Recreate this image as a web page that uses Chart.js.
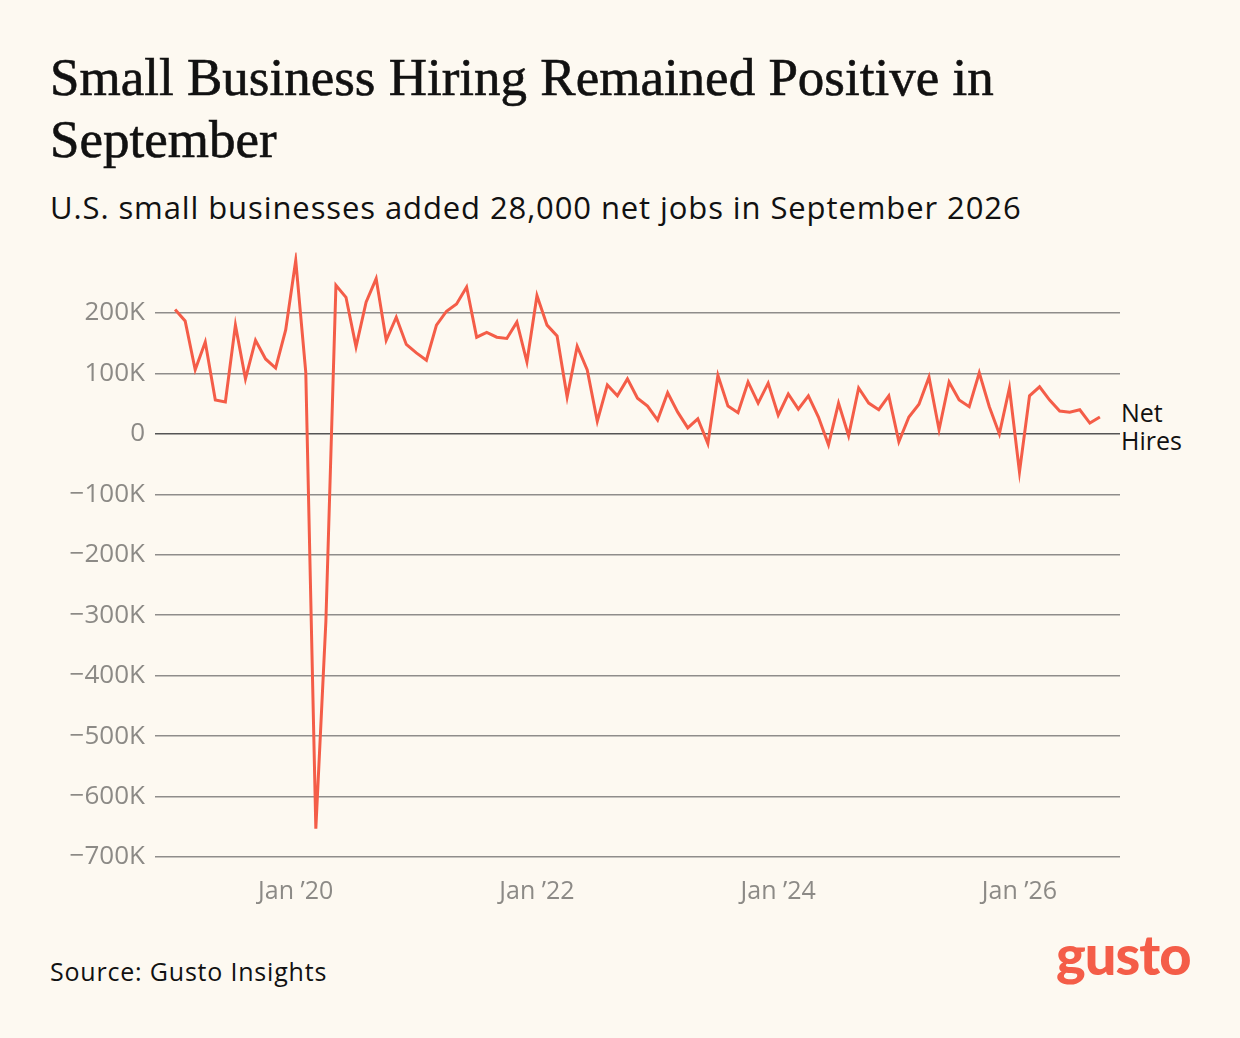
<!DOCTYPE html>
<html>
<head>
<meta charset="utf-8">
<script src="https://cdn.jsdelivr.net/npm/chart.js@4"></script>
<style>
  body{margin:0;background:#fdf9f1;width:1240px;height:1038px;position:relative;overflow:hidden;font-family:"Open Sans",sans-serif;color:#111}
  #title{position:absolute;left:50px;top:46px;width:1100px;font-family:"Liberation Serif",serif;font-size:53px;line-height:62px;font-weight:normal;-webkit-text-stroke:0.6px #111}
  #sub{position:absolute;left:50px;top:186px;font-size:31px;letter-spacing:0.9px}
  #src{position:absolute;left:50px;top:954px;font-size:25px;letter-spacing:0.8px}
  #logo{position:absolute;left:1056px;top:920px;font-family:Lato,sans-serif;font-size:56px;font-weight:900;color:#f45d48;letter-spacing:-1px}
  #lbl{position:absolute;left:1121px;top:398px;font-size:25px;line-height:28px}
  #wrap{position:absolute;left:0;top:227px;width:1240px;height:680px}
</style>
</head>
<body>
<div id="title">Small Business Hiring Remained Positive in September</div>
<div id="sub">U.S. small businesses added 28,000 net jobs in September 2026</div>
<div id="lbl">Net<br>Hires</div>
<div id="src">Source: Gusto Insights</div>
<div id="logo">gusto</div>
<div id="wrap"><canvas id="c"></canvas></div>
<script>
// monthly net hires in thousands, Jan 2019 .. Sep 2026
const netHires = [
  206,187,106,152,56,53,180,91,155,124,109,172,
  287,102,-653,-310,246,226,144,218,257,155,193,148,
  134,122,180,203,215,243,160,168,160,158,185,119,
  229,180,162,61,145,106,21,81,63,91,59,46,
  23,68,36,10,25,-16,97,46,35,86,51,84,
  31,66,41,63,28,-18,51,-3,76,51,40,63,
  -13,28,49,94,7,86,56,45,101,45,0,76,
  -63,63,78,56,38,36,40,18,28
];
const xTickIdx = [12,36,60,84];
const xTickLabels = ['Jan \u201920','Jan \u201922','Jan \u201924','Jan \u201926'];
const yTicks = [200,100,0,-100,-200,-300,-400,-500,-600,-700];

const points = netHires.map((v,i)=>({x:i,y:v}));

new Chart(document.getElementById('c'),{
  type:'line',
  data:{datasets:[{data:points,borderColor:'#f45d48',borderWidth:3,pointRadius:0,tension:0}]},
  options:{
    responsive:true,maintainAspectRatio:false,animation:false,
    layout:{padding:{top:0,right:120,left:0,bottom:0}},
    plugins:{legend:{display:false},tooltip:{enabled:false}},
    scales:{
      x:{type:'linear',min:-2,max:94,
        afterBuildTicks:s=>{s.ticks=xTickIdx.map(v=>({value:v}))},
        afterFit:s=>{s.height=50},
        grid:{display:false},border:{display:false},
        ticks:{autoSkip:false,maxRotation:0,color:'#8c8a86',font:{family:'Open Sans',size:25},padding:12,
          callback:v=>xTickLabels[xTickIdx.indexOf(v)]}},
      y:{min:-700,max:300,
        afterBuildTicks:s=>{s.ticks=yTicks.map(v=>({value:v}))},
        afterFit:s=>{s.width=155},
        border:{display:false},
        grid:{drawTicks:false,lineWidth:1.5,color:c=>c.tick&&c.tick.value===0?'#555':'#8f8d8b'},
        ticks:{color:'#8c8a86',font:{family:'Open Sans',size:26},padding:10,
          callback:v=>v===0?'0':(v<0?'\u2212'+(-v):v)+'K'}}
    }
  }
});
</script>
</body>
</html>
